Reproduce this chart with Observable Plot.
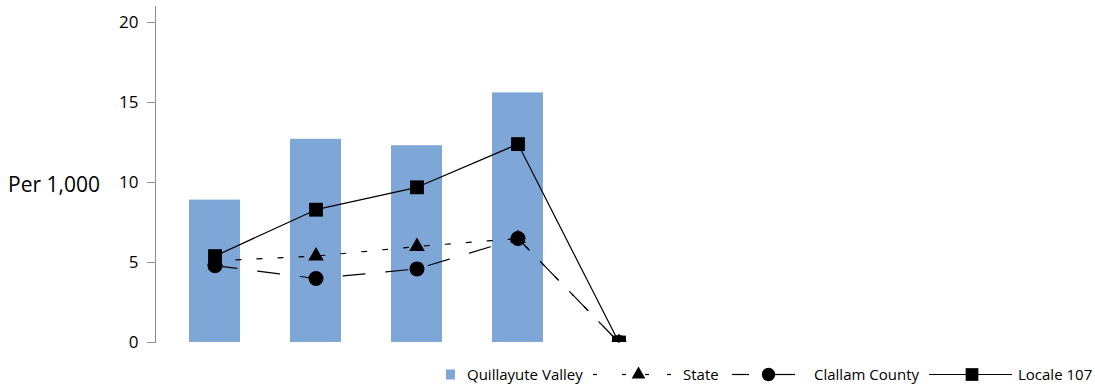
<!DOCTYPE html>
<html><head><meta charset="utf-8">
<script src="https://cdn.jsdelivr.net/npm/d3@7"></script>
<script src="https://cdn.jsdelivr.net/npm/@observablehq/plot@0.6"></script>
<style>
body{margin:0;background:#fff;}
#wrap{position:relative;width:1095px;height:388px;font-family:"Open Sans",sans-serif;color:#000;}
#chart svg{display:block;}
#legend{display:block;}
#ylabel{position:absolute;left:8px;top:174px;font-size:21px;line-height:1;white-space:nowrap;}
#chart [aria-label="y-axis tick"]{stroke:#8c8c8c;}
#chart [aria-label="frame"]{stroke:#8c8c8c;}
</style></head><body>
<div id="wrap"><div id="chart"></div><svg id="legend" width="1095" height="33"></svg><div id="ylabel">Per 1,000</div></div>
<script>
// ---- data ----
const categories = ["1", "2", "3", "4", "5"];
const quillayuteValley = [8.9, 12.7, 12.3, 15.6, 0];
const state = [5.1, 5.4, 6.0, 6.5, 0];
const clallamCounty = [4.8, 4.0, 4.6, 6.5, 0];
const locale107 = [5.4, 8.3, 9.7, 12.4, 0];
const seriesNames = ["Quillayute Valley", "State", "Clallam County", "Locale 107"];
const yTicks = [0, 5, 10, 15, 20];

const barColor = "#7ea7d8";
const rows = (vals) => categories.map((c, i) => ({cat: c, v: vals[i]}));
const bars = rows(quillayuteValley);
const stateRows = rows(state);
const countyRows = rows(clallamCounty);
const localeRows = rows(locale107);

const plot = Plot.plot({
  width: 1095,
  height: 355,
  marginLeft: 155,
  marginTop: 6,
  marginBottom: 13,
  marginRight: 0,
  style: {fontFamily: "'Open Sans', sans-serif", fontSize: "17px", color: "#000", background: "transparent"},
  x: {domain: categories, range: [155, 677], paddingInner: 0.5, paddingOuter: 0.322, axis: null},
  y: {domain: [0, 21], ticks: yTicks, tickSize: 8, tickPadding: 9, line: true, label: null, tickFormat: d3.format("d")},
  marks: [
    Plot.barY(bars, {x: "cat", y: "v", fill: barColor}),
    Plot.line(stateRows, {x: "cat", y: "v", stroke: "#000", strokeWidth: 1.2, strokeDasharray: "5,16"}),
    Plot.dot(stateRows, {x: "cat", y: "v", symbol: "triangle", r: 5.8, fill: "#000", stroke: "none", clip: true}),
    Plot.line(countyRows, {x: "cat", y: "v", stroke: "#000", strokeWidth: 1.2, strokeDasharray: "22,21"}),
    Plot.dot(countyRows, {x: "cat", y: "v", symbol: "circle", r: 7.5, fill: "#000", stroke: "none", clip: true}),
    Plot.line(localeRows, {x: "cat", y: "v", stroke: "#000", strokeWidth: 1.2}),
    Plot.dot(localeRows, {x: "cat", y: "v", symbol: "square", r: 7.8, fill: "#000", stroke: "none", clip: true})
  ]
});
document.getElementById("chart").appendChild(plot);

// ---- legend ----
const lg = d3.select("#legend");
const cy = 19.5, base = 25;
const txt = (x, s) => lg.append("text").attr("x", x).attr("y", base).attr("font-size", 15).attr("fill", "#000").text(s);
const seg = (a, b) => lg.append("line").attr("x1", a).attr("x2", b).attr("y1", cy).attr("y2", cy).attr("stroke", "#000").attr("stroke-width", 1.2);
const sym = (type, x, size) => lg.append("path").attr("transform", `translate(${x},${cy})`).attr("d", d3.symbol(type, size)()).attr("fill", "#000");

lg.append("rect").attr("x", 446).attr("y", cy - 5).attr("width", 9).attr("height", 10).attr("fill", barColor);
txt(467, seriesNames[0]);

[[593, 597], [622, 626], [645, 649], [667, 671]].forEach(([a, b]) => seg(a, b));
sym(d3.symbolTriangle, 638.5, 82);
txt(683, seriesNames[1]);

[[732, 749], [775, 795]].forEach(([a, b]) => seg(a, b));
sym(d3.symbolCircle, 768.5, Math.PI * 6.7 * 6.7);
txt(814, seriesNames[2]);

seg(929, 1012);
sym(d3.symbolSquare, 972, 12.7 * 12.7);
txt(1018, seriesNames[3]);
</script>
</body></html>
